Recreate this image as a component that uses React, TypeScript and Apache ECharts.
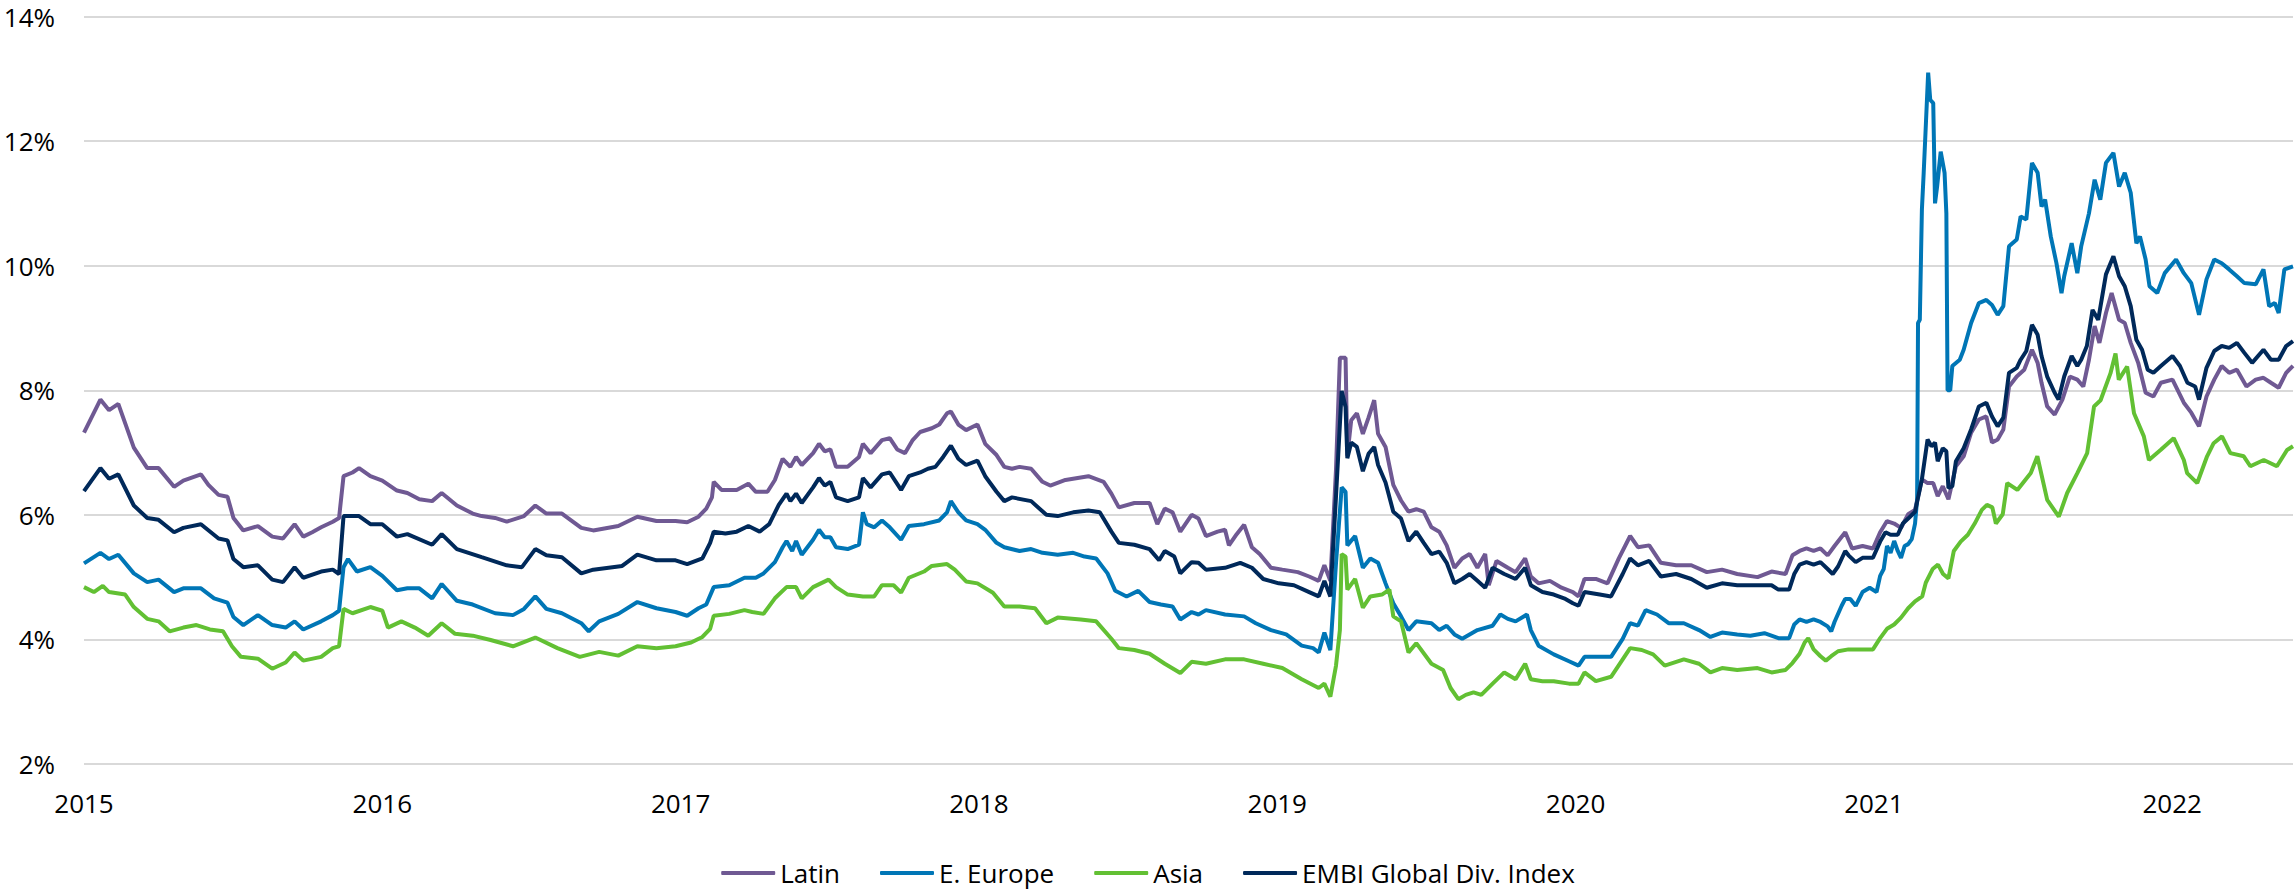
import React, { useEffect, useRef } from "react";
import * as echarts from "echarts";

// x values are decimal years, y values are spreads in %
const yearTicks = [2015, 2016, 2017, 2018, 2019, 2020, 2021, 2022];
const seriesNames = ["Latin", "E. Europe", "Asia", "EMBI Global Div. Index"];

const latinYears = [
  2015.0, 2015.055, 2015.084, 2015.115, 2015.167, 2015.212, 2015.25, 2015.302, 2015.333, 2015.392, 2015.417, 2015.451, 2015.481, 2015.501, 2015.534, 2015.583, 2015.631, 2015.667, 2015.706, 2015.735, 2015.765, 2015.795, 2015.834, 2015.855, 2015.87, 2015.9, 2015.922, 2015.96,
  2016.0, 2016.049, 2016.084, 2016.124, 2016.167, 2016.199, 2016.25, 2016.303, 2016.333, 2016.378, 2016.417, 2016.475, 2016.513, 2016.55, 2016.602, 2016.667, 2016.707, 2016.791, 2016.855, 2016.919, 2016.983,
  2017.022, 2017.06, 2017.086, 2017.105, 2017.111, 2017.137, 2017.188, 2017.227, 2017.252, 2017.291, 2017.316, 2017.342, 2017.368, 2017.387, 2017.406, 2017.444, 2017.464, 2017.483, 2017.502, 2017.521, 2017.56, 2017.598, 2017.611, 2017.637, 2017.675, 2017.701, 2017.726, 2017.752, 2017.778, 2017.803, 2017.842, 2017.867, 2017.893, 2017.906, 2017.931, 2017.957, 2017.995,
  2018.021, 2018.059, 2018.085, 2018.111, 2018.136, 2018.175, 2018.213, 2018.239, 2018.29, 2018.367, 2018.418, 2018.444, 2018.469, 2018.521, 2018.572, 2018.598, 2018.623, 2018.649, 2018.675, 2018.713, 2018.736, 2018.761, 2018.8, 2018.825, 2018.838, 2018.864, 2018.889, 2018.915, 2018.941, 2018.979,
  2019.017, 2019.069, 2019.107, 2019.139, 2019.158, 2019.178, 2019.197, 2019.21, 2019.229, 2019.235, 2019.248, 2019.267, 2019.287, 2019.306, 2019.325, 2019.338, 2019.363, 2019.389, 2019.415, 2019.44, 2019.466, 2019.491, 2019.517, 2019.543, 2019.568, 2019.594, 2019.62, 2019.645, 2019.671, 2019.697, 2019.709, 2019.735, 2019.773, 2019.799, 2019.831, 2019.85, 2019.876, 2019.914, 2019.953, 2019.991,
  2020.01, 2020.03, 2020.068, 2020.107, 2020.145, 2020.183, 2020.209, 2020.247, 2020.286, 2020.337, 2020.388, 2020.44, 2020.491, 2020.542, 2020.61, 2020.657, 2020.704, 2020.727, 2020.751, 2020.774, 2020.798, 2020.821, 2020.845, 2020.868, 2020.904, 2020.927, 2020.962, 2020.997,
  2021.021, 2021.044, 2021.068, 2021.091, 2021.115, 2021.138, 2021.161, 2021.18, 2021.199, 2021.214, 2021.231, 2021.25, 2021.275, 2021.301, 2021.326, 2021.352, 2021.377, 2021.396, 2021.415, 2021.434, 2021.453, 2021.479, 2021.504, 2021.53, 2021.549, 2021.562, 2021.581, 2021.606, 2021.632, 2021.657, 2021.682, 2021.702, 2021.721, 2021.74, 2021.756, 2021.778, 2021.797, 2021.822, 2021.841, 2021.861, 2021.886, 2021.911, 2021.937, 2021.962,
  2022.001, 2022.039, 2022.064, 2022.09, 2022.115, 2022.141, 2022.166, 2022.191, 2022.217, 2022.249, 2022.28, 2022.306, 2022.331, 2022.357, 2022.382, 2022.405,
];
const latinValues = [
  7.32, 7.85, 7.68, 7.78, 7.08, 6.75, 6.75, 6.45, 6.55, 6.65, 6.48, 6.32, 6.29, 5.95, 5.75, 5.82, 5.65, 5.62, 5.85, 5.65, 5.72, 5.8, 5.89, 5.95, 6.62, 6.68, 6.75, 6.62,
  6.55, 6.39, 6.35, 6.25, 6.22, 6.35, 6.15, 6.02, 5.98, 5.95, 5.89, 5.98, 6.15, 6.02, 6.02, 5.79, 5.75, 5.82, 5.97, 5.9, 5.9,
  5.88, 5.97, 6.1, 6.28, 6.53, 6.4, 6.4, 6.5, 6.37, 6.37, 6.56, 6.9, 6.77, 6.93, 6.8, 6.99, 7.14, 7.02, 7.05, 6.77, 6.77, 6.93, 7.14, 6.99, 7.2, 7.23, 7.05, 6.99, 7.2, 7.33, 7.39, 7.45, 7.63, 7.66, 7.45, 7.36, 7.45,
  7.14, 6.96, 6.77, 6.74, 6.77, 6.74, 6.53, 6.47, 6.56, 6.62, 6.53, 6.34, 6.12, 6.19, 6.19, 5.85, 6.1, 6.04, 5.73, 6.0, 5.94, 5.66, 5.73, 5.76, 5.51, 5.69, 5.84, 5.48, 5.37, 5.15,
  5.12, 5.08, 5.01, 4.94, 5.19, 4.94, 6.73, 8.52, 8.52, 6.95, 7.52, 7.63, 7.3, 7.56, 7.84, 7.3, 7.09, 6.48, 6.23, 6.05, 6.09, 6.05, 5.8, 5.73, 5.51, 5.15, 5.3, 5.37, 5.15, 5.37, 4.87, 5.26, 5.15, 5.08, 5.3, 5.01, 4.9, 4.94, 4.83, 4.76,
  4.69, 4.97, 4.97, 4.9, 5.3, 5.66, 5.48, 5.51, 5.23, 5.19, 5.19, 5.08, 5.12, 5.05, 5.0, 5.09, 5.05, 5.35, 5.42, 5.46, 5.42, 5.46, 5.35, 5.5, 5.72, 5.46, 5.5, 5.46,
  5.72, 5.9, 5.86, 5.79, 6.01, 6.08, 6.57, 6.51, 6.51, 6.3, 6.46, 6.25, 6.78, 6.94, 7.32, 7.53, 7.58, 7.16, 7.21, 7.37, 8.06, 8.22, 8.33, 8.65, 8.44, 8.12, 7.74, 7.61, 7.85, 8.22, 8.17, 8.06, 8.49, 9.03, 8.76, 9.24, 9.56, 9.13, 9.08, 8.76, 8.44, 7.96, 7.9, 8.12,
  8.17, 7.8, 7.64, 7.42, 7.9, 8.17, 8.39, 8.28, 8.33, 8.06, 8.17, 8.2, 8.12, 8.04, 8.28, 8.39,
];

const europeYears = [
  2015.0, 2015.055, 2015.084, 2015.115, 2015.167, 2015.212, 2015.25, 2015.302, 2015.333, 2015.392, 2015.436, 2015.481, 2015.501, 2015.534, 2015.583, 2015.631, 2015.676, 2015.706, 2015.735, 2015.795, 2015.834, 2015.855, 2015.87, 2015.885, 2015.915, 2015.96,
  2016.0, 2016.049, 2016.084, 2016.124, 2016.167, 2016.199, 2016.25, 2016.303, 2016.378, 2016.438, 2016.475, 2016.513, 2016.55, 2016.602, 2016.667, 2016.692, 2016.727, 2016.791, 2016.855, 2016.919, 2016.983,
  2017.022, 2017.06, 2017.086, 2017.111, 2017.163, 2017.214, 2017.252, 2017.278, 2017.316, 2017.342, 2017.355, 2017.374, 2017.387, 2017.406, 2017.444, 2017.464, 2017.483, 2017.502, 2017.521, 2017.56, 2017.598, 2017.611, 2017.624, 2017.649, 2017.675, 2017.701, 2017.739, 2017.765, 2017.816, 2017.867, 2017.893, 2017.906, 2017.931, 2017.957, 2017.995,
  2018.021, 2018.059, 2018.085, 2018.136, 2018.175, 2018.213, 2018.264, 2018.316, 2018.354, 2018.393, 2018.431, 2018.457, 2018.495, 2018.534, 2018.572, 2018.61, 2018.649, 2018.675, 2018.713, 2018.736, 2018.761, 2018.825, 2018.889, 2018.928, 2018.979,
  2019.03, 2019.082, 2019.12, 2019.139, 2019.158, 2019.178, 2019.197, 2019.216, 2019.229, 2019.235, 2019.261, 2019.287, 2019.312, 2019.338, 2019.363, 2019.389, 2019.415, 2019.44, 2019.466, 2019.517, 2019.543, 2019.568, 2019.594, 2019.62, 2019.671, 2019.722, 2019.748, 2019.773, 2019.799, 2019.837, 2019.85, 2019.876, 2019.927, 2019.978,
  2020.01, 2020.03, 2020.081, 2020.119, 2020.158, 2020.183, 2020.209, 2020.235, 2020.273, 2020.312, 2020.363, 2020.414, 2020.452, 2020.491, 2020.542, 2020.586, 2020.633, 2020.68, 2020.716, 2020.733, 2020.751, 2020.774, 2020.798, 2020.821, 2020.845, 2020.857, 2020.868, 2020.892, 2020.904, 2020.921, 2020.939, 2020.962, 2020.986,
  2021.009, 2021.021, 2021.033, 2021.044, 2021.056, 2021.068, 2021.08, 2021.091, 2021.103, 2021.115, 2021.127, 2021.138, 2021.145, 2021.148, 2021.154, 2021.161, 2021.167, 2021.173, 2021.182, 2021.189, 2021.199, 2021.205, 2021.212, 2021.224, 2021.237, 2021.243, 2021.247, 2021.256, 2021.263, 2021.288, 2021.301, 2021.326, 2021.352, 2021.377, 2021.396, 2021.415, 2021.434, 2021.453, 2021.479, 2021.492, 2021.511, 2021.53, 2021.549, 2021.562, 2021.574, 2021.593, 2021.612, 2021.629, 2021.638, 2021.663, 2021.682, 2021.695, 2021.721, 2021.74, 2021.759, 2021.778, 2021.803, 2021.822, 2021.841, 2021.861, 2021.88, 2021.892, 2021.911, 2021.924, 2021.95, 2021.975,
  2022.013, 2022.039, 2022.064, 2022.09, 2022.115, 2022.141, 2022.166, 2022.191, 2022.217, 2022.242, 2022.28, 2022.306, 2022.325, 2022.344, 2022.357, 2022.376, 2022.405,
];
const europeValues = [
  5.22, 5.39, 5.29, 5.36, 5.06, 4.92, 4.96, 4.76, 4.82, 4.82, 4.66, 4.59, 4.36, 4.23, 4.39, 4.23, 4.19, 4.29, 4.16, 4.29, 4.39, 4.46, 5.16, 5.29, 5.09, 5.16,
  5.02, 4.79, 4.82, 4.82, 4.66, 4.89, 4.62, 4.56, 4.42, 4.39, 4.49, 4.69, 4.49, 4.42, 4.26, 4.13, 4.29, 4.41, 4.6, 4.5, 4.44,
  4.38, 4.5, 4.56, 4.84, 4.87, 4.99, 4.99, 5.06, 5.24, 5.48, 5.58, 5.42, 5.58, 5.36, 5.6, 5.76, 5.64, 5.64, 5.48, 5.45, 5.52, 6.04, 5.85, 5.8, 5.91, 5.8, 5.6, 5.82, 5.85, 5.91, 6.04, 6.22, 6.04, 5.91, 5.85,
  5.76, 5.55, 5.48, 5.42, 5.45, 5.39, 5.36, 5.39, 5.33, 5.3, 5.06, 4.78, 4.69, 4.78, 4.6, 4.56, 4.53, 4.32, 4.44, 4.4, 4.47, 4.4, 4.37, 4.26, 4.15,
  4.08, 3.9, 3.86, 3.79, 4.11, 3.83, 5.23, 6.44, 6.37, 5.51, 5.66, 5.15, 5.3, 5.23, 4.9, 4.58, 4.37, 4.15, 4.29, 4.26, 4.15, 4.22, 4.08, 4.01, 4.15, 4.22, 4.4, 4.33, 4.29, 4.4, 4.15, 3.9, 3.76, 3.65,
  3.58, 3.72, 3.72, 3.72, 4.01, 4.26, 4.22, 4.47, 4.4, 4.26, 4.26, 4.15, 4.04, 4.11, 4.08, 4.06, 4.1, 4.02, 4.02, 4.24, 4.32, 4.28, 4.32, 4.28, 4.21, 4.13, 4.28, 4.54, 4.65, 4.65, 4.54, 4.76, 4.83,
  4.76, 5.02, 5.13, 5.5, 5.39, 5.58, 5.42, 5.31, 5.5, 5.53, 5.61, 5.86, 6.25, 9.08, 9.13, 10.9, 11.49, 12.13, 13.1, 12.66, 12.61, 11.0, 11.27, 11.83, 11.49, 10.84, 8.0, 8.0, 8.39, 8.49, 8.65, 9.08, 9.4, 9.45, 9.37, 9.21, 9.35, 10.31, 10.42, 10.79, 10.74, 11.65, 11.49, 10.95, 11.06, 10.47, 10.04, 9.56, 9.83, 10.36, 9.88, 10.31, 10.84, 11.38, 11.06, 11.65, 11.81, 11.27, 11.49, 11.17, 10.36, 10.47, 10.1, 9.67, 9.56, 9.88,
  10.1, 9.88, 9.72, 9.21, 9.78, 10.1, 10.04, 9.94, 9.83, 9.72, 9.7, 9.94, 9.35, 9.4, 9.24, 9.94, 9.99,
];

const asiaYears = [
  2015.0, 2015.033, 2015.063, 2015.084, 2015.138, 2015.167, 2015.212, 2015.25, 2015.287, 2015.333, 2015.377, 2015.422, 2015.466, 2015.496, 2015.526, 2015.583, 2015.631, 2015.676, 2015.706, 2015.735, 2015.795, 2015.834, 2015.855, 2015.87, 2015.9, 2015.96,
  2016.0, 2016.019, 2016.064, 2016.109, 2016.154, 2016.199, 2016.244, 2016.303, 2016.363, 2016.438, 2016.513, 2016.587, 2016.662, 2016.727, 2016.791, 2016.855, 2016.919, 2016.983,
  2017.035, 2017.073, 2017.099, 2017.111, 2017.163, 2017.214, 2017.24, 2017.278, 2017.316, 2017.355, 2017.387, 2017.406, 2017.444, 2017.496, 2017.521, 2017.56, 2017.611, 2017.649, 2017.675, 2017.714, 2017.739, 2017.765, 2017.816, 2017.842, 2017.893, 2017.919, 2017.957, 2017.995,
  2018.047, 2018.085, 2018.136, 2018.188, 2018.226, 2018.264, 2018.341, 2018.393, 2018.444, 2018.469, 2018.521, 2018.572, 2018.623, 2018.675, 2018.713, 2018.761, 2018.825, 2018.889, 2018.953,
  2019.017, 2019.082, 2019.139, 2019.158, 2019.178, 2019.197, 2019.21, 2019.216, 2019.229, 2019.235, 2019.261, 2019.287, 2019.312, 2019.351, 2019.376, 2019.389, 2019.415, 2019.44, 2019.466, 2019.517, 2019.556, 2019.581, 2019.607, 2019.632, 2019.658, 2019.684, 2019.722, 2019.761, 2019.799, 2019.831, 2019.85, 2019.889, 2019.927, 2019.978,
  2020.01, 2020.03, 2020.068, 2020.119, 2020.158, 2020.183, 2020.222, 2020.26, 2020.299, 2020.363, 2020.414, 2020.452, 2020.491, 2020.542, 2020.61, 2020.657, 2020.704, 2020.727, 2020.751, 2020.768, 2020.78, 2020.798, 2020.821, 2020.839, 2020.857, 2020.88, 2020.915, 2020.962, 2020.997,
  2021.021, 2021.044, 2021.068, 2021.091, 2021.115, 2021.138, 2021.162, 2021.174, 2021.197, 2021.215, 2021.232, 2021.25, 2021.268, 2021.291, 2021.315, 2021.338, 2021.362, 2021.379, 2021.397, 2021.409, 2021.432, 2021.447, 2021.481, 2021.526, 2021.548, 2021.581, 2021.62, 2021.648, 2021.682, 2021.715, 2021.738, 2021.76, 2021.793, 2021.81, 2021.821, 2021.849, 2021.872, 2021.905, 2021.922, 2021.961,
  2022.005, 2022.039, 2022.05, 2022.084, 2022.117, 2022.139, 2022.167, 2022.195, 2022.24, 2022.262, 2022.307, 2022.351, 2022.385, 2022.405,
];
const asiaValues = [
  4.84, 4.76, 4.86, 4.76, 4.72, 4.52, 4.33, 4.29, 4.13, 4.19, 4.23, 4.16, 4.13, 3.89, 3.72, 3.69, 3.53, 3.63, 3.79, 3.66, 3.72, 3.86, 3.89, 4.49, 4.42, 4.52,
  4.46, 4.19, 4.29, 4.19, 4.06, 4.26, 4.09, 4.06, 3.99, 3.89, 4.03, 3.86, 3.72, 3.8, 3.74, 3.89, 3.86, 3.89,
  3.95, 4.04, 4.17, 4.38, 4.41, 4.47, 4.44, 4.41, 4.66, 4.84, 4.84, 4.66, 4.84, 4.96, 4.84, 4.72, 4.69, 4.69, 4.87, 4.87, 4.75, 4.99, 5.09, 5.18, 5.21, 5.12, 4.93, 4.9,
  4.75, 4.53, 4.53, 4.5, 4.26, 4.35, 4.32, 4.29, 4.01, 3.86, 3.83, 3.77, 3.61, 3.46, 3.64, 3.61, 3.68, 3.68, 3.61,
  3.54, 3.36, 3.22, 3.29, 3.08, 3.58, 4.15, 5.37, 5.33, 4.8, 4.97, 4.51, 4.69, 4.72, 4.8, 4.37, 4.29, 3.79, 3.94, 3.61, 3.51, 3.22, 3.04, 3.11, 3.15, 3.11, 3.29, 3.47, 3.36, 3.61, 3.36, 3.33, 3.33, 3.29,
  3.29, 3.47, 3.33, 3.4, 3.68, 3.86, 3.83, 3.76, 3.58, 3.68, 3.61, 3.47, 3.54, 3.51, 3.54, 3.47, 3.51, 3.62, 3.77, 3.95, 4.02, 3.84, 3.73, 3.66, 3.73, 3.81, 3.84, 3.84, 3.84,
  4.02, 4.17, 4.24, 4.35, 4.5, 4.61, 4.69, 4.91, 5.13, 5.2, 5.05, 4.98, 5.42, 5.57, 5.68, 5.86, 6.08, 6.16, 6.12, 5.86, 6.01, 6.51, 6.4, 6.67, 6.94, 6.24, 5.97, 6.35, 6.67, 6.99, 7.74, 7.84, 8.27, 8.59, 8.17, 8.38, 7.63, 7.26, 6.88, 7.04,
  7.23, 6.88, 6.67, 6.51, 6.94, 7.15, 7.26, 6.99, 6.94, 6.78, 6.88, 6.78, 7.04, 7.1,
];

const embiYears = [
  2015.0, 2015.055, 2015.084, 2015.115, 2015.167, 2015.212, 2015.25, 2015.302, 2015.333, 2015.392, 2015.451, 2015.481, 2015.501, 2015.534, 2015.583, 2015.631, 2015.667, 2015.706, 2015.735, 2015.795, 2015.834, 2015.855, 2015.87, 2015.922, 2015.96,
  2016.0, 2016.049, 2016.084, 2016.167, 2016.199, 2016.25, 2016.333, 2016.417, 2016.468, 2016.513, 2016.55, 2016.602, 2016.667, 2016.707, 2016.804, 2016.855, 2016.919, 2016.983,
  2017.022, 2017.073, 2017.099, 2017.111, 2017.15, 2017.188, 2017.227, 2017.265, 2017.297, 2017.329, 2017.355, 2017.368, 2017.387, 2017.406, 2017.444, 2017.464, 2017.483, 2017.502, 2017.521, 2017.56, 2017.598, 2017.611, 2017.637, 2017.675, 2017.701, 2017.739, 2017.765, 2017.803, 2017.829, 2017.854, 2017.88, 2017.906, 2017.931, 2017.957, 2017.995,
  2018.021, 2018.059, 2018.085, 2018.111, 2018.175, 2018.226, 2018.264, 2018.316, 2018.367, 2018.405, 2018.444, 2018.469, 2018.521, 2018.572, 2018.604, 2018.623, 2018.655, 2018.675, 2018.713, 2018.736, 2018.761, 2018.825, 2018.876, 2018.915, 2018.953,
  2019.005, 2019.056, 2019.107, 2019.139, 2019.158, 2019.178, 2019.197, 2019.216, 2019.229, 2019.235, 2019.248, 2019.267, 2019.287, 2019.306, 2019.325, 2019.338, 2019.363, 2019.389, 2019.415, 2019.44, 2019.466, 2019.491, 2019.517, 2019.543, 2019.568, 2019.594, 2019.62, 2019.645, 2019.671, 2019.697, 2019.722, 2019.761, 2019.799, 2019.831, 2019.85, 2019.889, 2019.927, 2019.966, 2019.991,
  2020.01, 2020.03, 2020.081, 2020.119, 2020.158, 2020.183, 2020.209, 2020.247, 2020.286, 2020.337, 2020.388, 2020.44, 2020.491, 2020.542, 2020.61, 2020.657, 2020.68, 2020.716, 2020.733, 2020.751, 2020.774, 2020.798, 2020.821, 2020.845, 2020.862, 2020.88, 2020.904, 2020.915, 2020.939, 2020.962, 2020.997,
  2021.021, 2021.039, 2021.056, 2021.08, 2021.097, 2021.115, 2021.138, 2021.161, 2021.18, 2021.193, 2021.205, 2021.214, 2021.231, 2021.243, 2021.25, 2021.263, 2021.275, 2021.301, 2021.326, 2021.352, 2021.377, 2021.396, 2021.415, 2021.434, 2021.453, 2021.479, 2021.492, 2021.511, 2021.53, 2021.549, 2021.562, 2021.581, 2021.606, 2021.619, 2021.638, 2021.663, 2021.682, 2021.695, 2021.714, 2021.733, 2021.752, 2021.778, 2021.803, 2021.822, 2021.841, 2021.861, 2021.88, 2021.899, 2021.918, 2021.937, 2021.962,
  2022.001, 2022.026, 2022.051, 2022.077, 2022.09, 2022.115, 2022.141, 2022.166, 2022.191, 2022.217, 2022.242, 2022.268, 2022.306, 2022.331, 2022.357, 2022.382, 2022.405,
];
const embiValues = [
  6.38, 6.75, 6.58, 6.65, 6.15, 5.95, 5.92, 5.72, 5.79, 5.85, 5.62, 5.59, 5.29, 5.16, 5.19, 4.96, 4.92, 5.16, 4.99, 5.09, 5.12, 5.05, 5.98, 5.98, 5.85,
  5.85, 5.65, 5.69, 5.52, 5.69, 5.45, 5.32, 5.19, 5.16, 5.45, 5.35, 5.32, 5.06, 5.12, 5.18, 5.36, 5.27, 5.27,
  5.21, 5.3, 5.55, 5.73, 5.7, 5.73, 5.82, 5.73, 5.85, 6.16, 6.34, 6.22, 6.34, 6.19, 6.44, 6.59, 6.47, 6.53, 6.28, 6.22, 6.28, 6.59, 6.44, 6.65, 6.68, 6.4, 6.62, 6.68, 6.74, 6.77, 6.93, 7.11, 6.9, 6.8, 6.87,
  6.62, 6.37, 6.22, 6.28, 6.22, 6.0, 5.98, 6.04, 6.07, 6.04, 5.73, 5.55, 5.52, 5.45, 5.27, 5.42, 5.33, 5.06, 5.24, 5.23, 5.12, 5.15, 5.23, 5.15, 4.97,
  4.9, 4.87, 4.76, 4.69, 4.94, 4.69, 6.3, 7.99, 7.73, 6.91, 7.16, 7.09, 6.7, 6.98, 7.09, 6.8, 6.52, 6.05, 5.94, 5.58, 5.73, 5.55, 5.37, 5.41, 5.23, 4.9, 4.97, 5.05, 4.94, 4.83, 5.15, 5.05, 4.97, 5.15, 4.87, 4.76, 4.72, 4.65, 4.58,
  4.54, 4.76, 4.72, 4.69, 5.05, 5.3, 5.19, 5.26, 5.01, 5.05, 4.97, 4.83, 4.9, 4.87, 4.87, 4.87, 4.8, 4.8, 5.05, 5.2, 5.24, 5.2, 5.24, 5.13, 5.05, 5.17, 5.42, 5.35, 5.24, 5.31, 5.31,
  5.57, 5.72, 5.68, 5.68, 5.86, 5.94, 6.05, 6.57, 7.21, 7.1, 7.16, 6.86, 7.07, 7.02, 6.43, 6.46, 6.86, 7.07, 7.37, 7.74, 7.8, 7.58, 7.42, 7.56, 8.28, 8.36, 8.49, 8.63, 9.05, 8.89, 8.55, 8.22, 7.96, 7.85, 8.22, 8.55, 8.39, 8.49, 8.71, 9.29, 9.13, 9.86, 10.15, 9.83, 9.67, 9.35, 8.81, 8.65, 8.33, 8.28, 8.39,
  8.55, 8.39, 8.12, 8.06, 7.85, 8.36, 8.63, 8.71, 8.68, 8.76, 8.6, 8.44, 8.65, 8.49, 8.49, 8.71, 8.79,
];

const seriesColors = ["#6F5993", "#0076B6", "#62C033", "#00295A"];

const pair = (xs: number[], ys: number[]) => xs.map((x, i) => [x, ys[i]]);

export default function App() {
  const ref = useRef<HTMLDivElement>(null);

  useEffect(() => {
    if (!ref.current) return;
    const chart = echarts.init(ref.current, undefined, { renderer: "svg" });
    const font = "'Open Sans', 'Noto Sans', sans-serif";
    const datasets = [
      pair(latinYears, latinValues),
      pair(europeYears, europeValues),
      pair(asiaYears, asiaValues),
      pair(embiYears, embiValues),
    ];
    chart.setOption({
      animation: false,
      backgroundColor: "#ffffff",
      grid: { left: 84, right: 0, top: 16.5, bottom: 126, containLabel: false },
      xAxis: {
        type: "value",
        min: yearTicks[0],
        max: 2022.405,
        interval: 1,
        axisLine: { show: false },
        axisTick: { show: false },
        splitLine: { show: false },
        axisLabel: {
          margin: 26,
          fontSize: 26,
          fontFamily: font,
          color: "#000",
          formatter: (v: number) => (yearTicks.includes(v) ? String(v) : ""),
        },
      },
      yAxis: {
        type: "value",
        min: 2,
        max: 14,
        interval: 2,
        axisLine: { show: false },
        axisTick: { show: false },
        splitLine: { lineStyle: { color: "#d9d9d9", width: 2 } },
        axisLabel: {
          margin: 29,
          fontSize: 26,
          fontFamily: font,
          color: "#000",
          formatter: "{value}%",
        },
      },
      legend: {
        data: seriesNames,
        left: "center",
        top: 858,
        padding: 0,
        icon: "roundRect",
        itemWidth: 54,
        itemHeight: 4,
        itemGap: 40,
        textStyle: { fontSize: 26, lineHeight: 30, fontFamily: font, color: "#000" },
      },
      series: seriesNames.map((name, i) => ({
        name,
        type: "line",
        data: datasets[i],
        showSymbol: false,
        symbol: "none",
        color: seriesColors[i],
        lineStyle: { width: 4, color: seriesColors[i] },
        z: 2 + i,
      })),
    });
    return () => chart.dispose();
  }, []);

  return (
    <div
      ref={ref}
      style={{ position: "fixed", left: 0, top: 0, width: 2296, height: 890, background: "#fff" }}
    />
  );
}
